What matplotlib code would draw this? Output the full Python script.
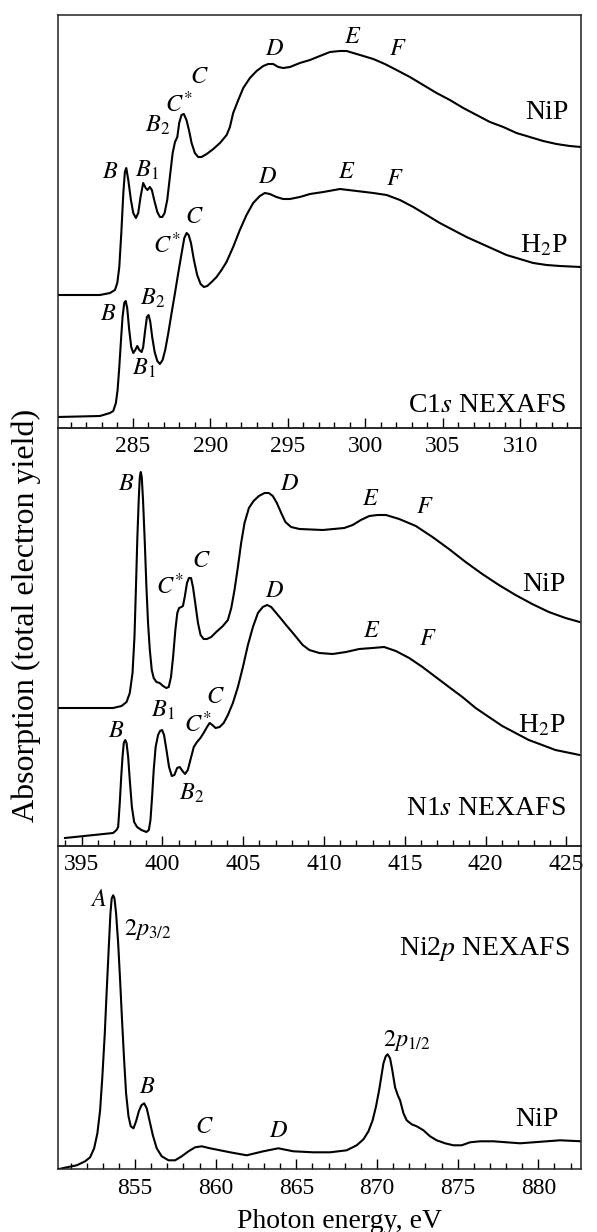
import matplotlib.pyplot as plt
from matplotlib.ticker import MultipleLocator

plt.rcParams['font.family'] = ['Liberation Serif', 'DejaVu Serif']
plt.rcParams['mathtext.fontset'] = 'stix'

# C1s NEXAFS, NiP
c1s_e_nip = [280.17, 282.89, 283.54, 283.86, 284.01, 284.14, 284.27, 284.40, 284.50, 284.59,
             284.72, 284.89, 285.04, 285.21, 285.36, 285.51, 285.68, 285.84, 285.96, 286.11,
             286.24, 286.39, 286.59, 286.76, 286.91, 287.06, 287.23, 287.40, 287.58, 287.73,
             287.88, 288.00, 288.15, 288.30, 288.47, 288.63, 288.80, 289.01, 289.22, 289.44,
             289.77, 290.20, 290.63, 291.06, 291.27, 291.48, 291.81, 292.13, 292.56, 292.99,
             293.42, 293.74, 294.06, 294.39, 294.71, 295.14, 295.78, 296.43, 297.07, 297.72,
             298.36, 298.79, 299.22, 299.87, 300.51, 301.26, 302.01, 302.87, 303.73, 304.59,
             305.45, 306.31, 307.17, 308.03, 308.89, 309.74, 310.60, 311.46, 312.32, 313.18,
             313.89]
c1s_nip = [1.33, 1.33, 1.35, 1.38, 1.45, 1.61, 1.95, 2.35, 2.56, 2.60,
           2.48, 2.28, 2.15, 2.10, 2.15, 2.31, 2.45, 2.40, 2.38, 2.41,
           2.38, 2.28, 2.16, 2.11, 2.11, 2.15, 2.28, 2.51, 2.75, 2.86,
           2.91, 3.05, 3.13, 3.14, 3.08, 2.98, 2.85, 2.75, 2.71, 2.71,
           2.74, 2.79, 2.85, 2.93, 3.01, 3.15, 3.28, 3.40, 3.50, 3.57,
           3.62, 3.64, 3.64, 3.61, 3.60, 3.61, 3.65, 3.68, 3.72, 3.76,
           3.77, 3.77, 3.75, 3.72, 3.69, 3.64, 3.58, 3.51, 3.43, 3.35,
           3.28, 3.20, 3.13, 3.06, 3.01, 2.95, 2.91, 2.87, 2.84, 2.82,
           2.81]

# C1s NEXAFS, H2P
c1s_e_h2p = [280.17, 282.89, 283.54, 283.75, 283.92, 284.03, 284.14, 284.25, 284.35, 284.46,
             284.55, 284.65, 284.78, 284.91, 285.04, 285.17, 285.30, 285.43, 285.58, 285.68,
             285.81, 285.92, 286.03, 286.14, 286.26, 286.42, 286.59, 286.76, 286.93, 287.10,
             287.30, 287.51, 287.73, 287.94, 288.16, 288.33, 288.48, 288.61, 288.76, 288.95,
             289.16, 289.38, 289.59, 289.81, 290.09, 290.41, 290.73, 291.05, 291.48, 291.91,
             292.34, 292.77, 293.20, 293.52, 293.84, 294.27, 294.70, 295.13, 295.78, 296.43,
             297.29, 298.36, 299.44, 300.51, 301.37, 302.23, 303.09, 303.95, 304.80, 305.66,
             306.52, 307.38, 308.24, 309.10, 309.96, 310.82, 311.68, 312.54, 313.89]
c1s_h2p = [0.11, 0.12, 0.15, 0.17, 0.25, 0.38, 0.61, 0.88, 1.11, 1.25,
           1.27, 1.20, 0.98, 0.81, 0.75, 0.78, 0.82, 0.78, 0.76, 0.81,
           0.98, 1.11, 1.13, 1.06, 0.91, 0.76, 0.67, 0.64, 0.68, 0.78,
           0.95, 1.15, 1.35, 1.55, 1.75, 1.90, 1.95, 1.93, 1.85, 1.68,
           1.53, 1.44, 1.41, 1.42, 1.46, 1.51, 1.58, 1.66, 1.81, 1.98,
           2.13, 2.25, 2.32, 2.35, 2.34, 2.31, 2.29, 2.29, 2.31, 2.34,
           2.36, 2.39, 2.37, 2.35, 2.33, 2.28, 2.21, 2.13, 2.05, 1.98,
           1.91, 1.85, 1.79, 1.73, 1.69, 1.65, 1.63, 1.62, 1.61]

# N1s NEXAFS, NiP
n1s_e_nip = [393.52, 396.13, 396.95, 397.47, 397.78, 397.98, 398.15, 398.27, 398.37, 398.45,
             398.54, 398.60, 398.66, 398.72, 398.80, 398.91, 399.01, 399.11, 399.22, 399.34,
             399.46, 399.63, 399.83, 400.04, 400.24, 400.39, 400.53, 400.66, 400.80, 400.92,
             401.03, 401.17, 401.27, 401.38, 401.52, 401.64, 401.77, 401.89, 402.03, 402.20,
             402.36, 402.55, 402.75, 403.02, 403.33, 403.74, 404.05, 404.26, 404.46, 404.67,
             404.87, 405.08, 405.35, 405.64, 405.97, 406.32, 406.58, 406.83, 407.08, 407.35,
             407.61, 407.96, 408.48, 409.92, 411.25, 411.77, 412.28, 412.80, 413.31, 413.83,
             414.65, 415.68, 416.71, 417.73, 418.76, 419.79, 420.82, 421.85, 422.88, 423.91,
             424.94, 425.82]
n1s_nip = [1.38, 1.38, 1.38, 1.40, 1.44, 1.53, 1.73, 2.09, 2.63, 3.09,
           3.49, 3.69, 3.74, 3.69, 3.46, 3.03, 2.59, 2.23, 1.96, 1.76,
           1.68, 1.64, 1.63, 1.60, 1.58, 1.59, 1.69, 1.89, 2.16, 2.33,
           2.38, 2.39, 2.40, 2.49, 2.63, 2.68, 2.68, 2.59, 2.43, 2.23,
           2.11, 2.07, 2.07, 2.09, 2.14, 2.20, 2.26, 2.38, 2.56, 2.79,
           3.03, 3.23, 3.38, 3.45, 3.50, 3.53, 3.53, 3.50, 3.43, 3.33,
           3.24, 3.19, 3.17, 3.16, 3.18, 3.21, 3.26, 3.30, 3.31, 3.31,
           3.27, 3.20, 3.09, 2.97, 2.84, 2.72, 2.61, 2.51, 2.42, 2.34,
           2.28, 2.24]

# N1s NEXAFS, H2P
n1s_e_h2p = [393.97, 396.95, 397.16, 397.26, 397.36, 397.45, 397.53, 397.61, 397.70, 397.78,
             397.88, 397.98, 398.11, 398.25, 398.43, 398.70, 399.01, 399.16, 399.26, 399.36,
             399.46, 399.58, 399.73, 399.85, 399.98, 400.10, 400.25, 400.41, 400.58, 400.74,
             400.91, 401.07, 401.24, 401.40, 401.57, 401.73, 401.94, 402.14, 402.35, 402.55,
             402.76, 402.92, 403.09, 403.29, 403.54, 403.79, 404.05, 404.36, 404.67, 404.98,
             405.29, 405.60, 405.91, 406.21, 406.48, 406.73, 407.04, 407.35, 407.65, 408.07,
             408.68, 409.09, 409.71, 410.53, 411.36, 412.18, 413.00, 413.72, 414.44, 415.27,
             416.09, 416.91, 417.73, 418.56, 419.38, 420.20, 421.03, 421.85, 422.67, 423.50,
             424.32, 425.82]
n1s_h2p = [0.08, 0.13, 0.16, 0.19, 0.43, 0.69, 0.89, 1.03, 1.06, 1.03,
           0.89, 0.66, 0.39, 0.24, 0.19, 0.16, 0.14, 0.16, 0.26, 0.49,
           0.76, 0.99, 1.11, 1.15, 1.16, 1.11, 0.96, 0.79, 0.70, 0.71,
           0.78, 0.79, 0.75, 0.72, 0.76, 0.86, 0.99, 1.04, 1.08, 1.13,
           1.19, 1.23, 1.21, 1.18, 1.19, 1.23, 1.31, 1.43, 1.59, 1.79,
           2.01, 2.19, 2.33, 2.39, 2.41, 2.39, 2.33, 2.27, 2.21, 2.13,
           2.01, 1.96, 1.93, 1.92, 1.94, 1.97, 1.98, 1.99, 1.95, 1.88,
           1.79, 1.69, 1.59, 1.49, 1.38, 1.29, 1.20, 1.13, 1.06, 1.01,
           0.96, 0.91]

# Ni2p NEXAFS, NiP
ni2p_e = [850.21, 850.76, 851.38, 851.90, 852.21, 852.46, 852.66, 852.83, 852.97, 853.12,
          853.24, 853.37, 853.47, 853.55, 853.64, 853.72, 853.82, 853.95, 854.07, 854.19,
          854.32, 854.44, 854.59, 854.73, 854.90, 855.06, 855.23, 855.39, 855.56, 855.72,
          855.89, 856.10, 856.34, 856.65, 857.07, 857.48, 857.89, 858.31, 858.72, 859.13,
          859.65, 860.89, 861.92, 862.95, 863.88, 864.81, 866.05, 867.09, 868.12, 868.74,
          869.16, 869.47, 869.73, 869.94, 870.13, 870.40, 870.54, 870.66, 870.81, 870.95,
          871.12, 871.29, 871.43, 871.64, 871.84, 872.15, 872.46, 872.88, 873.29, 873.70,
          874.22, 874.74, 875.25, 875.77, 876.39, 877.22, 878.04, 878.87, 879.70, 880.52,
          881.35, 882.69]
ni2p = [0.00, 0.02, 0.04, 0.08, 0.12, 0.21, 0.36, 0.59, 0.93, 1.36,
        1.79, 2.23, 2.56, 2.71, 2.74, 2.71, 2.56, 2.26, 1.89, 1.49,
        1.09, 0.76, 0.53, 0.43, 0.41, 0.48, 0.58, 0.64, 0.66, 0.61,
        0.49, 0.34, 0.21, 0.13, 0.09, 0.09, 0.13, 0.18, 0.22, 0.23,
        0.21, 0.17, 0.14, 0.18, 0.21, 0.18, 0.17, 0.17, 0.19, 0.24,
        0.30, 0.38, 0.49, 0.63, 0.79, 1.06, 1.13, 1.15, 1.11, 0.99,
        0.82, 0.74, 0.69, 0.56, 0.49, 0.45, 0.43, 0.39, 0.33, 0.29,
        0.26, 0.24, 0.24, 0.27, 0.28, 0.28, 0.27, 0.26, 0.27, 0.28,
        0.29, 0.28]

W, H = 597, 1232
fig = plt.figure(figsize=(W / 100, H / 100), dpi=100)


def panel(top, bottom):
    return fig.add_axes([57.7 / W, 1 - bottom / H, (581 - 57.7) / W, (bottom - top) / H])


ax1 = panel(15, 428)
ax2 = panel(428, 846)
ax3 = panel(846, 1169.3)

ax1.set_xlim(280.17, 313.9)
ax1.set_ylim(0, 4.13)
ax2.set_xlim(393.52, 425.9)
ax2.set_ylim(0, 4.18)
ax3.set_xlim(850.2, 882.65)
ax3.set_ylim(0, 3.233)

kw = dict(color='black', lw=1.5, solid_joinstyle='round')
ax1.plot(c1s_e_nip, c1s_nip, **kw)
ax1.plot(c1s_e_h2p, c1s_h2p, **kw)
ax2.plot(n1s_e_nip, n1s_nip, **kw)
ax2.plot(n1s_e_h2p, n1s_h2p, **kw)
ax3.plot(ni2p_e, ni2p, **kw)

for ax in (ax1, ax2, ax3):
    ax.xaxis.set_major_locator(MultipleLocator(5))
    ax.xaxis.set_minor_locator(MultipleLocator(1))
    ax.tick_params(axis='x', which='both', direction='in', top=False, width=1.0,
                   labelsize=17, pad=6)
    ax.tick_params(axis='x', which='major', length=7)
    ax.tick_params(axis='x', which='minor', length=4)
    ax.set_yticks([])
    for s in ax.spines.values():
        s.set_linewidth(1.1)
        s.set_color('#222222')
    ax.set_zorder(1)
    ax.patch.set_alpha(0)

pk = dict(fontsize=17.5, ha='center', va='baseline')
lab = dict(fontsize=20, ha='right', va='baseline')

# C1s labels
for x, y, t in [(283.54, 2.50, '$B$'), (285.90, 2.51, '$B_1$'), (286.59, 2.96, '$B_2$'),
                (287.97, 3.16, '$C^{*}$'), (289.27, 3.45, '$C$'), (294.17, 3.73, '$D$'),
                (299.17, 3.85, '$E$'), (302.09, 3.73, '$F$'),
                (283.45, 1.08, '$B$'), (286.27, 1.23, '$B_2$'), (285.73, 0.53, '$B_1$'),
                (287.19, 1.75, '$C^{*}$'), (288.95, 2.05, '$C$'), (293.72, 2.45, '$D$'),
                (298.77, 2.50, '$E$'), (301.90, 2.43, '$F$')]:
    ax1.text(x, y, t, **pk)
ax1.text(313.07, 3.09, 'NiP', **lab)
ax1.text(313.07, 1.76, 'H$_2$P', **lab)
ax1.text(312.96, 0.16, 'C1$s$ NEXAFS', **lab)

# N1s labels
for x, y, t in [(397.78, 3.56, '$B$'), (400.47, 2.52, '$C^{*}$'), (402.43, 2.79, '$C$'),
                (407.86, 3.56, '$D$'), (412.88, 3.41, '$E$'), (416.25, 3.33, '$F$'),
                (397.12, 1.09, '$B$'), (400.04, 1.29, '$B_1$'), (401.81, 0.46, '$B_2$'),
                (402.22, 1.14, '$C^{*}$'), (403.29, 1.43, '$C$'), (406.93, 2.49, '$D$'),
                (412.94, 2.09, '$E$'), (416.40, 2.01, '$F$')]:
    ax2.text(x, y, t, **pk)
ax2.text(424.94, 2.55, 'NiP', **lab)
ax2.text(424.94, 1.14, 'H$_2$P', **lab)
ax2.text(424.94, 0.31, 'N1$s$ NEXAFS', **lab)

# Ni2p labels
for x, y, t in [(852.72, 2.63, '$A$'), (855.74, 0.76, '$B$'), (859.28, 0.36, '$C$'),
                (863.87, 0.32, '$D$')]:
    ax3.text(x, y, t, **pk)
ax3.text(854.32, 2.34, '$2p_{3/2}$', fontsize=17.5, ha='left', va='baseline')
ax3.text(871.84, 1.23, '$2p_{1/2}$', fontsize=17.5, ha='center', va='baseline')
ax3.text(881.24, 0.43, 'NiP', **lab)
ax3.text(881.97, 2.14, 'Ni2$p$ NEXAFS', **lab)

fig.text(340 / W, 1 - 1228 / H, 'Photon energy, eV', fontsize=20, ha='center', va='baseline')
fig.text(26 / W, 1 - 615 / H, 'Absorption (total electron yield)', fontsize=23,
         rotation=90, ha='center', va='center')

fig.savefig('out.png', dpi=100)
